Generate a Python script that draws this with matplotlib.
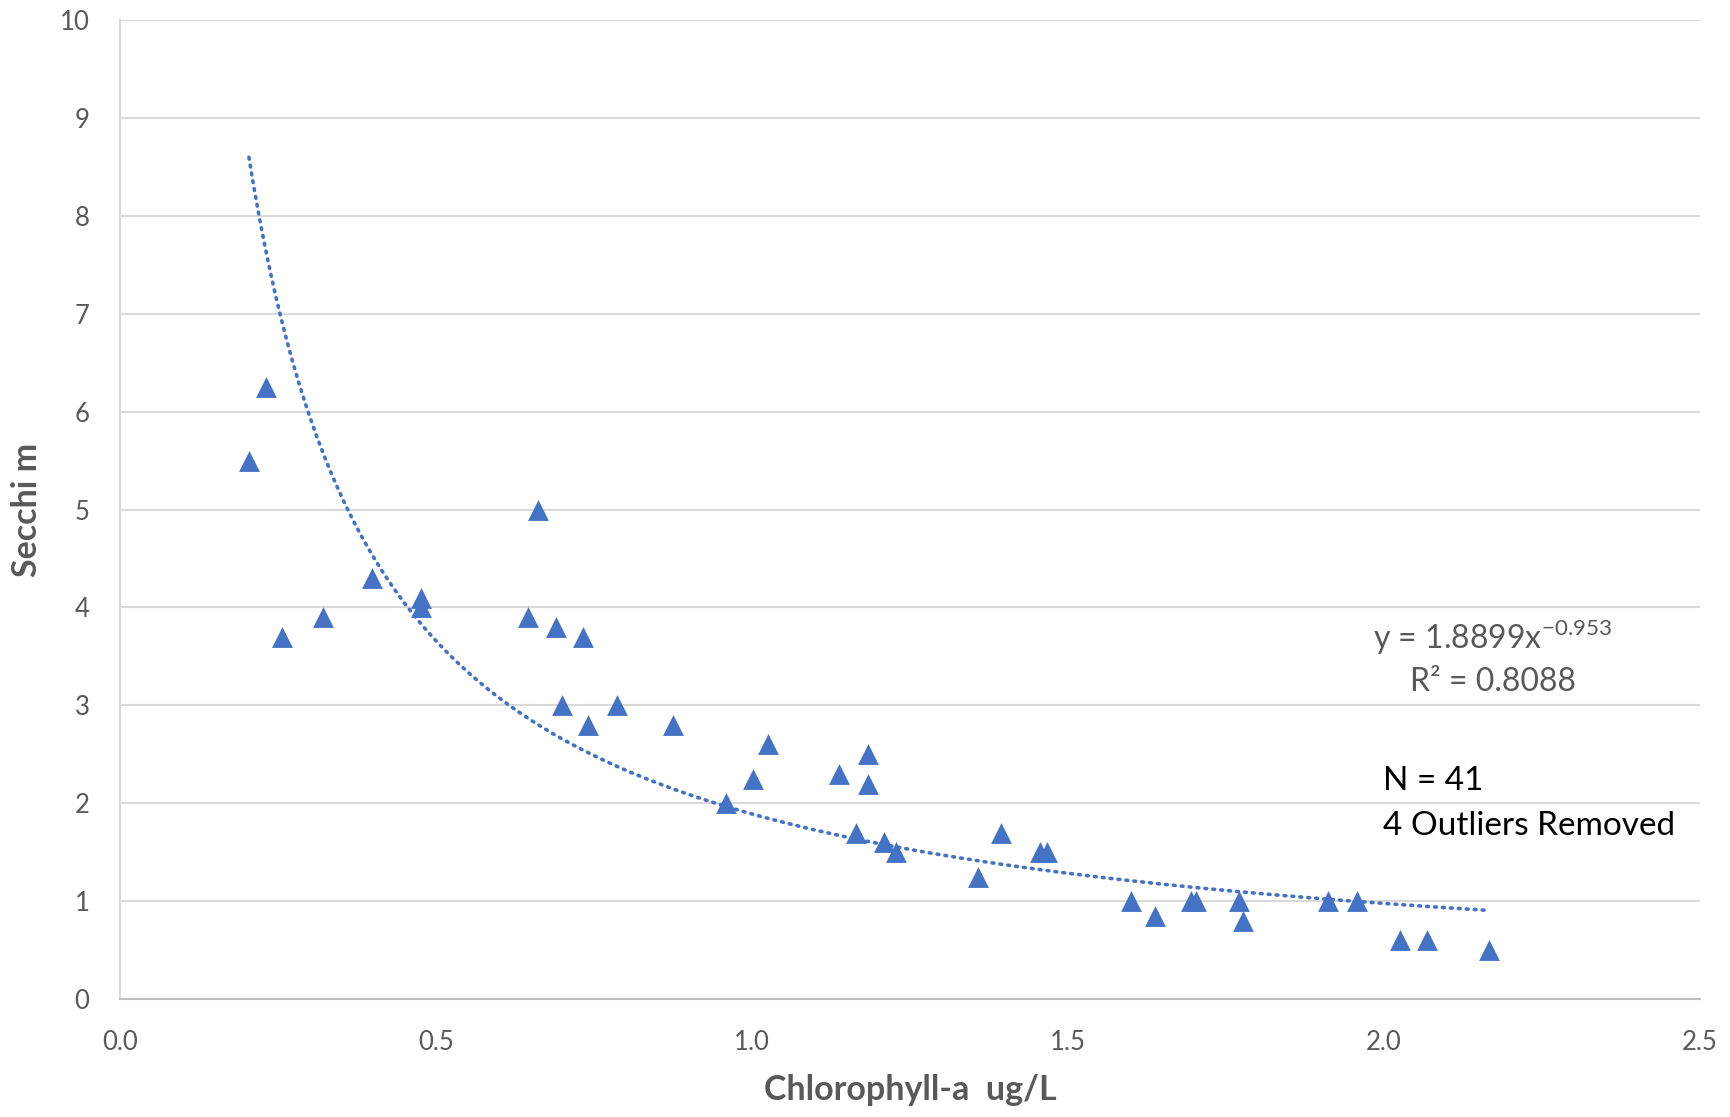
import numpy as np
import matplotlib
matplotlib.use("Agg")
import matplotlib.pyplot as plt

# ---- data ----
chla = [0.204, 0.231, 0.257, 0.321, 0.398, 0.477, 0.477, 0.645, 0.662, 0.690,
        0.699, 0.732, 0.741, 0.786, 0.875, 0.959, 1.001, 1.026, 1.137, 1.183,
        1.183, 1.165, 1.209, 1.228, 1.357, 1.394, 1.455, 1.466, 1.600, 1.637,
        1.695, 1.703, 1.770, 1.777, 1.911, 1.958, 2.025, 2.068, 2.166]
secchi = [5.5, 6.25, 3.7, 3.9, 4.3, 4.1, 4.0, 3.9, 5.0, 3.8,
          3.0, 3.7, 2.8, 3.0, 2.8, 2.0, 2.25, 2.6, 2.3, 2.5,
          2.2, 1.7, 1.6, 1.5, 1.25, 1.7, 1.5, 1.5, 1.0, 0.85,
          1.0, 1.0, 1.0, 0.8, 1.0, 1.0, 0.6, 0.6, 0.5]
fit_a = 1.8899
fit_b = -0.953
r2 = 0.8088
n_obs = 41
x_ticks = [0.0, 0.5, 1.0, 1.5, 2.0, 2.5]
y_ticks = list(range(0, 11))

plt.rcParams['font.family'] = ['Lato', 'DejaVu Sans']
plt.rcParams['mathtext.fontset'] = 'custom'
plt.rcParams['mathtext.rm'] = 'Lato'

blue = '#4472C4'
gray = '#595959'

fig = plt.figure(figsize=(17.31, 11.17), dpi=100)
ax = fig.add_axes([120/1731, 1-999/1117, (1700-120)/1731, (999-20)/1117])

ax.scatter(chla, secchi, marker='^', s=15**2, color=blue, zorder=3, linewidths=0)

xs = np.linspace(min(chla), max(chla), 400)
ax.plot(xs, fit_a * xs ** fit_b, color=blue, lw=2.6, linestyle=(0, (0.5, 1.7)),
        dash_capstyle='round', zorder=2)

ax.set_xlim(0, 2.5)
ax.set_ylim(0, 10)
ax.set_xticks(x_ticks)
ax.set_xticklabels([f"{v:.1f}" for v in x_ticks])
ax.set_yticks(y_ticks)
ax.yaxis.grid(True, color='#D9D9D9', lw=1.5)
ax.set_axisbelow(True)
for s in ['top', 'right']:
    ax.spines[s].set_visible(False)
ax.spines['left'].set_color('#D9D9D9')
ax.spines['left'].set_linewidth(1.5)
ax.spines['bottom'].set_color('#BFBFBF')
ax.spines['bottom'].set_linewidth(1.5)
ax.tick_params(axis='both', length=0, labelsize=18.5, labelcolor=gray)
ax.tick_params(axis='y', pad=22)
ax.tick_params(axis='x', pad=22)

ax.set_xlabel('Chlorophyll-a  ug/L', fontsize=24.5, fontweight='bold', color=gray, labelpad=14)
ax.set_ylabel('Secchi m', fontsize=24.5, fontweight='bold', color=gray, labelpad=12)

ax.text(2.172, 3.69, r'y = 1.8899x$^{\mathregular{-0.953}}$', ha='center', va='center',
        fontsize=23, color=gray)
ax.text(2.172, 3.24, f'R² = {r2:.4f}', ha='center', va='center', fontsize=23, color=gray)
ax.text(1.999, 2.23, f'N = {n_obs}', ha='left', va='center', fontsize=24, color='black')
ax.text(1.999, 1.77, '4 Outliers Removed', ha='left', va='center', fontsize=24, color='black')

fig.savefig('out.png', dpi=100, facecolor='white')
